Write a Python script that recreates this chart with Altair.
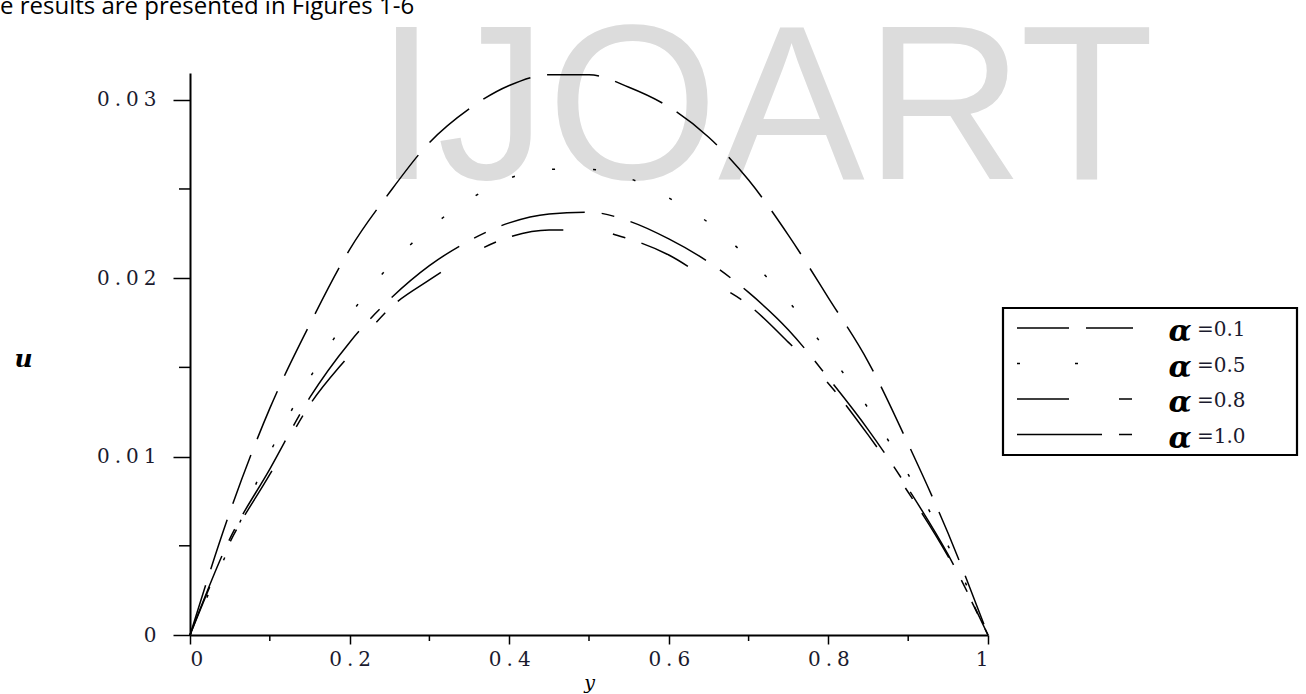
import altair as alt
import pandas as pd

# ---- data ----
y_pos = [0.0, 0.05, 0.1, 0.15, 0.2, 0.25, 0.3, 0.35, 0.4, 0.45, 0.5,
         0.55, 0.6, 0.65, 0.7, 0.75, 0.8, 0.85, 0.9, 0.95, 1.0]
u_a01 = [0, 0.0069, 0.0127, 0.0174, 0.0216, 0.0248, 0.0276, 0.0295, 0.0308, 0.0314, 0.0314,
         0.0307, 0.0296, 0.0279, 0.0255, 0.0224, 0.0189, 0.0153, 0.0107, 0.0057, 0]
u_a05 = [0, 0.0050, 0.0102, 0.0144, 0.0179, 0.0207, 0.0228, 0.0244, 0.0256, 0.0261, 0.0261,
         0.0256, 0.0245, 0.0231, 0.0211, 0.0187, 0.0158, 0.0127, 0.0090, 0.0050, 0]
u_a08 = [0, 0.0052, 0.0090, 0.0129, 0.0157, 0.0183, 0.0199, 0.0213, 0.0223, 0.0227, 0.0227,
         0.0222, 0.0213, 0.0199, 0.0185, 0.0164, 0.0141, 0.0112, 0.0080, 0.0044, 0]
u_a10 = [0, 0.0054, 0.0093, 0.0133, 0.0164, 0.0188, 0.0207, 0.0221, 0.0231, 0.0236, 0.0237,
         0.0232, 0.0222, 0.0209, 0.0192, 0.0171, 0.0144, 0.0115, 0.0082, 0.0045, 0]

series_names = ["0.1", "0.5", "0.8", "1.0"]
series_values = [u_a01, u_a05, u_a08, u_a10]

y_major = [0, 0.01, 0.02, 0.03]
y_minor = [0.005, 0.015, 0.025]
x_major = [0, 0.2, 0.4, 0.6, 0.8, 1.0]
x_minor = [0.1, 0.3, 0.5, 0.7, 0.9]

caption = "e results are presented in Figures 1-6"
watermark = "IJOART"

# ---- styles ----
plot_dash = [[52, 17], [3, 38], [52, 50, 13, 17], [85, 17, 13, 17]]
legend_dash = [[52, 17], [3, 55], [52, 50, 13, 17], [85, 17, 13, 17]]

W, H = 798, 562
YDOM = [0, 0.0315]
SERIF = "DejaVu Serif, Liberation Serif, serif"
LBL = "#1a1a2e"

rows = []
for name, vals in zip(series_names, series_values):
    for xv, uv in zip(y_pos, vals):
        rows.append({"series": name, "y": xv, "u": uv})
df = pd.DataFrame(rows)

one = pd.DataFrame({"k": [0]})

spaced = "join(split(datum.label, ''), '\u2005')"

xscale = alt.Scale(domain=[0, 1], nice=False)
yscale = alt.Scale(domain=YDOM, nice=False, zero=False)

lines = alt.Chart(df).mark_line(color="black", strokeWidth=1.5, interpolate="monotone").encode(
    x=alt.X("y:Q", scale=xscale,
            axis=alt.Axis(values=x_major, format=".1~f", tickSize=9, labelPadding=5,
                          labelFont=SERIF, labelFontSize=20, labelColor=LBL,
                          title="y", titleFontStyle="italic", titleFont=SERIF,
                          titleFontWeight="normal", titleFontSize=19, titleY=47,
                          titleBaseline="middle", labelExpr=spaced)),
    y=alt.Y("u:Q", scale=yscale,
            axis=alt.Axis(values=y_major, format=".2~f", tickSize=17, labelPadding=17,
                          labelFont=SERIF, labelFontSize=20, labelColor=LBL,
                          title="u", titleAngle=0, titleFont=SERIF, titleFontStyle="italic",
                          titleFontWeight="bold", titleFontSize=25, titleX=-167, titleY=285,
                          titleAlign="center", titleBaseline="middle", labelExpr=spaced)),
    strokeDash=alt.StrokeDash("series:N", scale=alt.Scale(domain=series_names, range=plot_dash),
                              legend=None),
    detail="series:N",
)

ymin_df = pd.DataFrame({"u": y_minor})
xmin_df = pd.DataFrame({"y": x_minor})
ticks_y = alt.Chart(ymin_df).mark_rule(color="black", strokeWidth=1.5).encode(
    y=alt.Y("u:Q", scale=yscale),
    x=alt.value(-11), x2=alt.value(0))
ticks_x = alt.Chart(xmin_df).mark_rule(color="black", strokeWidth=1.5).encode(
    x=alt.X("y:Q", scale=xscale),
    y=alt.value(H), y2=alt.value(H + 6))

wm = alt.Chart(one).mark_text(text=watermark, font="Liberation Sans", fontSize=220,
                              color="#dcdcdc", align="center", baseline="alphabetic").encode(
    x=alt.value(575), y=alt.value(106))
cap = alt.Chart(one).mark_text(text=caption, font="Open Sans", fontSize=24, color="black",
                               align="left", baseline="alphabetic").encode(
    x=alt.value(-190), y=alt.value(-59))

# ---- manual legend ----
box = alt.Chart(one).mark_rect(fill="white", stroke="black", strokeWidth=2.2).encode(
    x=alt.value(813), x2=alt.value(1107), y=alt.value(235), y2=alt.value(382))
legend_layers = [box]
for i, name in enumerate(series_names):
    ly = 255 + 35.5 * i
    legend_layers.append(
        alt.Chart(one).mark_rule(color="black", strokeWidth=1.5, strokeDash=legend_dash[i]).encode(
            x=alt.value(827), x2=alt.value(943), y=alt.value(ly)))
    legend_layers.append(
        alt.Chart(one).mark_text(text="α", font=SERIF, fontSize=30, fontWeight="bold",
                                 fontStyle="italic", align="center", baseline="alphabetic",
                                 color="black").encode(
            x=alt.value(990), y=alt.value(ly + 13)))
    legend_layers.append(
        alt.Chart(one).mark_text(text="=" + name, font=SERIF, fontSize=20, align="left",
                                 baseline="alphabetic", color=LBL).encode(
            x=alt.value(1007), y=alt.value(ly + 8)))

chart = alt.layer(wm, cap, lines, ticks_y, ticks_x, *legend_layers).properties(
    width=W, height=H,
    autosize=alt.AutoSizeParams(type="none"),
    padding={"left": 190, "top": 73, "right": 318, "bottom": 59},
    background="white",
).configure_view(stroke=None).configure_axis(
    domainColor="black", domainWidth=2, tickColor="black", tickWidth=1.5,
    grid=False, titleColor="black",
)

chart.save("out.html", embed_options={"renderer": "svg", "actions": False})
